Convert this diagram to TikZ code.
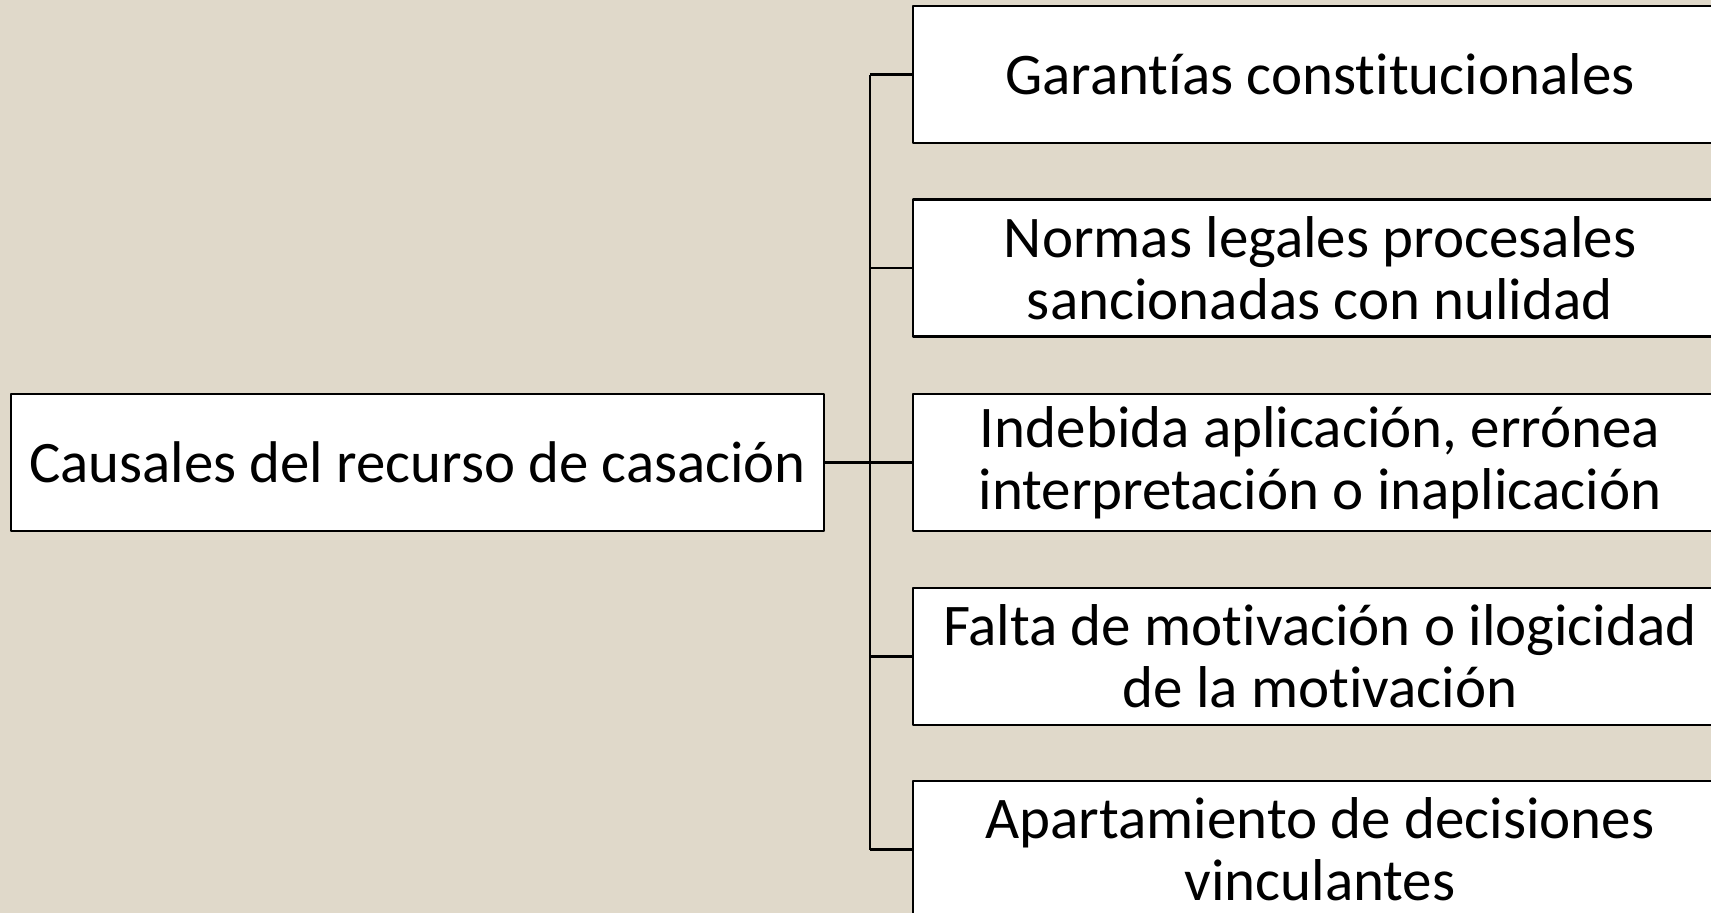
\documentclass[tikz,border=0pt]{standalone}
\usepackage{fontspec}
\setmainfont{Carlito}[Ligatures=NoCommon]
\usetikzlibrary{positioning,calc}
\definecolor{paper}{RGB}{224,217,202}

\begin{document}
\begin{tikzpicture}[line join=bevel, line width=2.4bp,
    causal/.style={draw=black, fill=white, inner sep=0pt, align=center,
      minimum width=814bp, minimum height=137bp,
      font=\fontsize{59bp}{62bp}\selectfont},
    topic/.style={causal, minimum width=813bp,
      font=\fontsize{58.8bp}{62bp}\selectfont}]
  \useasboundingbox (0bp,0bp) rectangle (1711bp,-913bp);
  \clip (0bp,0bp) rectangle (1711bp,-913bp);
  \fill[paper] (0bp,0bp) rectangle (1711bp,-913bp);
  %% left box
  % Node: root
  \node[topic] (root) at (417.5bp,-462.5bp) {Causales del recurso de casación};
  %% right boxes
  % Node: c1
  \node[causal] (c1) at (1320bp,-74.5bp) {Garantías constitucionales};
  % Node: c2
  \node[causal] (c2) at (1320bp,-268bp) {Normas legales procesales\\sancionadas con nulidad};
  % Node: c3
  \node[causal] (c3) at (1320bp,-462.5bp) {Indebida aplicación, errónea\\interpretación o inaplicación};
  % Node: c4
  \node[causal] (c4) at (1320bp,-656.5bp) {Falta de motivación o ilogicidad\\de la motivación};
  % Node: c5
  \node[causal] (c5) at (1320bp,-849.5bp) {Apartamiento de decisiones\\vinculantes};
  %% connectors
  \coordinate (bus) at (870bp,0bp);
  % Edge: root -> bus
  \draw (root.east) -- (root.east -| bus);
  \draw (c1.west -| bus) -- (c5.west -| bus);
  % Edge: bus -> c1 ... c5
  \foreach \n in {c1,c2,c3,c4,c5}
    \draw (\n.west -| bus) -- (\n.west);
\end{tikzpicture}
\end{document}
